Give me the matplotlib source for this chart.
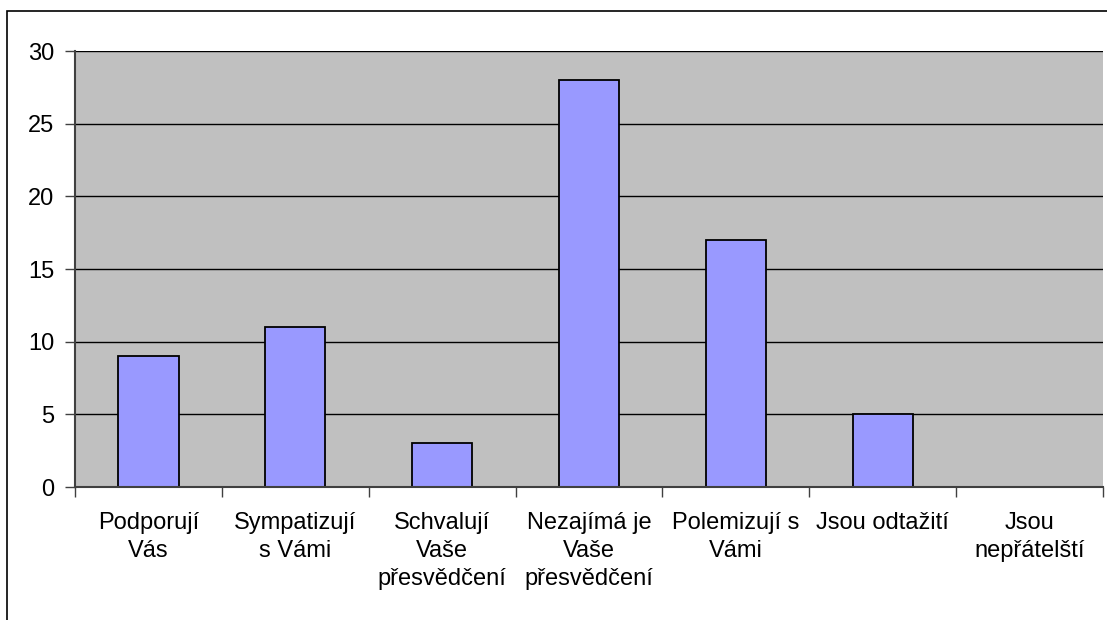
import matplotlib
matplotlib.use("Agg")
import matplotlib.pyplot as plt
from matplotlib.patches import Rectangle
import numpy as np

categories = ["Podporují\nVás", "Sympatizují\ns Vámi", "Schvalují\nVaše\npřesvědčení",
              "Nezajímá je\nVaše\npřesvědčení", "Polemizují s\nVámi", "Jsou odtažití",
              "Jsou\nnepřátelští"]
values = [9, 11, 3, 28, 17, 5, 0]
yticks = [0, 5, 10, 15, 20, 25, 30]

plt.rcParams['font.family'] = ['Liberation Sans', 'DejaVu Sans']

W, H = 1107, 620
fig = plt.figure(figsize=(W / 100, H / 100), dpi=100)
ax = fig.add_axes([75 / W, 1 - 487 / H, (1103 - 75) / W, (487 - 51) / H])

# outer chart border
fig.patches.append(Rectangle((7 / W, -0.1), 1.2, 1 - 11 / H + 0.1, transform=fig.transFigure,
                             fill=False, edgecolor='black', linewidth=1.2, zorder=0))

ax.set_facecolor('#C0C0C0')
x = np.arange(len(categories))
ax.bar(x, values, width=0.41, color='#9999FF', edgecolor='black', linewidth=1.3, zorder=3)

ax.set_xlim(-0.5, len(categories) - 0.5)
ax.set_ylim(0, 30)
ax.set_yticks(yticks)
ax.yaxis.grid(True, color='black', linewidth=1.0, zorder=1)
ax.set_axisbelow(True)

ax.set_xticks(np.arange(-0.5, len(categories), 1.0))
ax.set_xticklabels([])
ax.set_xticks(x, minor=True)
ax.set_xticklabels(categories, minor=True, fontsize=17, linespacing=1.35, va='top')
ax.tick_params(axis='x', which='minor', length=0, pad=18)
ax.tick_params(axis='x', which='major', length=7, width=1, color='#404040')
ax.tick_params(axis='y', length=7, width=1, color='#404040', labelsize=17, pad=8)

for s in ['top', 'right']:
    ax.spines[s].set_visible(False)
for s in ['left', 'bottom']:
    ax.spines[s].set_color('#404040')
    ax.spines[s].set_linewidth(1.5)
    ax.spines[s].set_zorder(4)

fig.savefig("out.png", dpi=100)
